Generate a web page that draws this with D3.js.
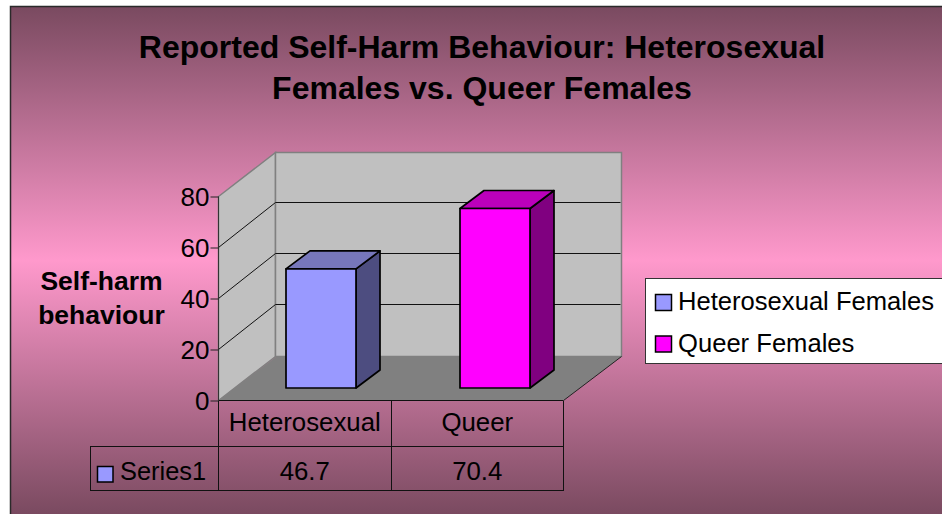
<!DOCTYPE html>
<html><head><meta charset="utf-8">
<script src="https://cdn.jsdelivr.net/npm/d3@7"></script>
<style>html,body{margin:0;padding:0;background:#fff}svg{display:block}text{font-family:"Liberation Sans",Arial,sans-serif;fill:#000}</style>
</head><body><svg id="c" width="942" height="514"></svg>
<script>
const categories = ["Heterosexual", "Queer"];
const values = [46.7, 70.4];
const seriesName = "Series1";
const yTicks = [0, 20, 40, 60, 80];
const titleLines = ["Reported Self-Harm Behaviour: Heterosexual", "Females vs. Queer Females"];
const yTitleLines = ["Self-harm", "behaviour"];
const legendLabels = ["Heterosexual Females", "Queer Females"];
const barColors = ["#9999ff", "#ff00ff"];
const barTopColors = ["#7777bb", "#bb00bb"];
const barSideColors = ["#4d4d80", "#800080"];

const svg = d3.select("#c");
const defs = svg.append("defs");
const g = defs.append("linearGradient").attr("id", "bg").attr("x1", 0).attr("x2", 0).attr("y1", 0).attr("y2", 1);
[[0, "#7a4a60"], [0.5, "#ff99cc"], [1, "#7a4a60"]].forEach(s => g.append("stop").attr("offset", s[0]).attr("stop-color", s[1]));
svg.append("rect").attr("x", 10).attr("y", 7).attr("width", 932).attr("height", 507).attr("fill", "url(#bg)");
svg.append("path").attr("d", "M10.5,514V6.5H942").attr("fill", "none").attr("stroke", "#2a2a2a").attr("stroke-width", 1.5);

const y = d3.scaleLinear().domain([0, 80]).range([400.5, 196.5]);
const x = d3.scaleBand().domain(categories).range([218.5, 563.5]);
const xBar = d3.scaleBand().domain(categories).range([234, 582]);
const DX = 58, DY = -44, gridDY = -45;
const plotL = x.range()[0], plotR = x.range()[1];
const poly = pts => "M" + pts.map(p => p.join(",")).join("L") + "Z";

// floor
svg.append("path").attr("d", poly([[plotL, y(0)], [plotL + DX, y(0) + DY], [plotR + DX, y(0) + DY], [plotR, y(0)]])).attr("fill", "#808080");
// side wall and back wall
svg.append("path").attr("d", poly([[plotL, y(0)], [plotL + DX - 1, y(0) + DY], [plotL + DX - 1, y(80) + DY], [plotL, y(80)]])).attr("fill", "#c0c0c0").attr("stroke", "#808080").attr("stroke-width", 1.5);
svg.append("path").attr("d", poly([[plotL + DX - 1, y(0) + DY], [plotL + DX - 1, y(80) + DY], [plotR + DX, y(80) + DY], [plotR + DX, y(0) + DY]])).attr("fill", "#c0c0c0").attr("stroke", "#808080").attr("stroke-width", 1.5);
svg.append("line").attr("x1", plotR).attr("y1", y(0)).attr("x2", plotR + DX).attr("y2", y(0) + DY).attr("stroke", "#222");
// gridlines
yTicks.slice(1, -1).forEach(t => {
  svg.append("path").attr("d", `M${plotL},${y(t)}L${plotL + DX - 1},${y(t) + gridDY}H${plotR + DX - 1}`).attr("fill", "none").attr("stroke", "#111");
});

// axis line and ticks
svg.append("line").attr("x1", plotL).attr("x2", plotL).attr("y1", y(0)).attr("y2", y(80)).attr("stroke", "#333").attr("stroke-width", 1);
svg.append("line").attr("x1", plotL).attr("x2", plotR).attr("y1", y(0)).attr("y2", y(0)).attr("stroke", "#111");
const yAxis = svg.append("g").attr("transform", `translate(${plotL},0)`).call(d3.axisLeft(y).tickValues(yTicks).tickSize(8).tickPadding(1));
yAxis.select(".domain").remove();
yAxis.selectAll("line").attr("stroke", "#222");
yAxis.selectAll("text").style("font-size", "26px").style("font-family", '"Liberation Sans"').attr("dy", "0.36em").attr("fill", "#000");

// bars
const barW = 70, bDX = 24, bDY = -18, baseY = 388;
const yb = v => baseY - (y(0) - y(v));
const bars = svg.selectAll("g.bar").data(categories).join("g").attr("class", "bar");
bars.each(function (c, i) {
  const gg = d3.select(this);
  const xl = xBar(c) + xBar.bandwidth() / 2 - barW / 2, xr = xl + barW, top = yb(values[i]);
  const st = sel => sel.attr("stroke", "#000").attr("stroke-width", 1.7).attr("stroke-linejoin", "round");
  gg.append("path").attr("d", poly([[xr, baseY], [xr + bDX, baseY + bDY], [xr + bDX, top + bDY], [xr, top]])).attr("fill", barSideColors[i]).call(st);
  gg.append("path").attr("d", poly([[xl, top], [xl + bDX, top + bDY], [xr + bDX, top + bDY], [xr, top]])).attr("fill", barTopColors[i]).call(st);
  gg.append("rect").attr("x", xl).attr("y", top).attr("width", barW).attr("height", baseY - top).attr("fill", barColors[i]).call(st);
});

// data table
const tLeft = 90, r1 = 446.5, r2 = 490.5;
const tb = svg.append("g").attr("stroke", "#111").attr("fill", "none").attr("shape-rendering", "crispEdges");
tb.append("path").attr("d", `M${plotL},${y(0)}V${r2}M${tLeft},${r1}H${plotR}M${tLeft},${r2}H${plotR}M${tLeft},${r1}V${r2}M${plotR},${y(0)}V${r2}`);
categories.slice(1).forEach(c => tb.append("line").attr("x1", x(c)).attr("x2", x(c)).attr("y1", y(0)).attr("y2", r2));
const fs = "25.8px";
categories.forEach((c, i) => {
  const cx = x(c) + x.bandwidth() / 2;
  svg.append("text").attr("x", cx).attr("y", 431).attr("text-anchor", "middle").style("font-size", fs).text(c);
  svg.append("text").attr("x", cx).attr("y", 480).attr("text-anchor", "middle").style("font-size", fs).text(values[i]);
});
svg.append("rect").attr("x", 97.5).attr("y", 466.5).attr("width", 15.5).attr("height", 15.5).attr("fill", barColors[0]).attr("stroke", "#000").attr("stroke-width", 1.5);
svg.append("text").attr("x", 120).attr("y", 480).style("font-size", "25.4px").text(seriesName);

// titles
titleLines.forEach((t, i) => svg.append("text").attr("x", 482).attr("y", 58 + i * 41).attr("text-anchor", "middle").style("font-size", "32px").style("font-weight", "700").text(t));
yTitleLines.forEach((t, i) => svg.append("text").attr("x", 101.5).attr("y", 290 + i * 34).attr("text-anchor", "middle").style("font-size", "26.5px").style("font-weight", "700").text(t));

// legend
svg.append("rect").attr("x", 645.5).attr("y", 278.5).attr("width", 297).attr("height", 85).attr("fill", "#fff").attr("stroke", "#333");
legendLabels.forEach((t, i) => {
  const cy = 302 + i * 41.5;
  svg.append("rect").attr("x", 655.5).attr("y", cy - 7.5).attr("width", 16).attr("height", 16).attr("fill", barColors[i]).attr("stroke", "#000").attr("stroke-width", 1.5);
  svg.append("text").attr("x", 678).attr("y", cy + 8).style("font-size", "25.6px").text(t);
});
</script></body></html>
